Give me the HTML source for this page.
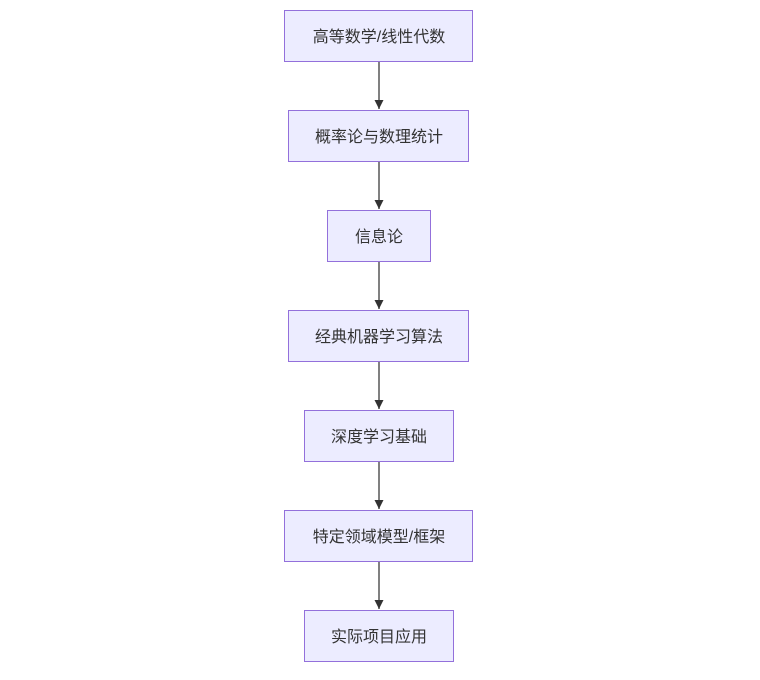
<!DOCTYPE html>
<html><head><meta charset="utf-8"><style>
html,body{margin:0;padding:0;background:#fff;width:760px;height:680px;overflow:hidden}
</style></head><body>
<svg width="760" height="680" xmlns="http://www.w3.org/2000/svg">
<defs><marker id="a" viewBox="0 0 10 10" refX="10" refY="5" markerWidth="6" markerHeight="6" orient="auto"><path d="M0,0L10,5L0,10z" fill="#333"/></marker></defs>
<g stroke="#555" stroke-width="1.5" fill="none" marker-end="url(#a)">
<line x1="379" y1="62" x2="379" y2="109"/>
<line x1="379" y1="162" x2="379" y2="209"/>
<line x1="379" y1="262" x2="379" y2="309"/>
<line x1="379" y1="362" x2="379" y2="409"/>
<line x1="379" y1="462" x2="379" y2="509"/>
<line x1="379" y1="562" x2="379" y2="609"/>
</g>
<g fill="#ECECFF" stroke="#9370DB" stroke-width="1">
<rect x="284.5" y="10.5" width="188" height="51"/>
<rect x="288.5" y="110.5" width="180" height="51"/>
<rect x="327.5" y="210.5" width="103" height="51"/>
<rect x="288.5" y="310.5" width="180" height="51"/>
<rect x="304.5" y="410.5" width="149" height="51"/>
<rect x="284.5" y="510.5" width="188" height="51"/>
<rect x="304.5" y="610.5" width="149" height="51"/>
</g>
<g font-family="'Liberation Sans','Noto Sans CJK SC',sans-serif" font-size="16" fill="#333" text-anchor="middle">
<text x="379" y="42">高等数学/线性代数</text>
<text x="379" y="142">概率论与数理统计</text>
<text x="379" y="242">信息论</text>
<text x="379" y="342">经典机器学习算法</text>
<text x="379" y="442">深度学习基础</text>
<text x="379" y="542">特定领域模型/框架</text>
<text x="379" y="642">实际项目应用</text>
</g>
</svg>
</body></html>
